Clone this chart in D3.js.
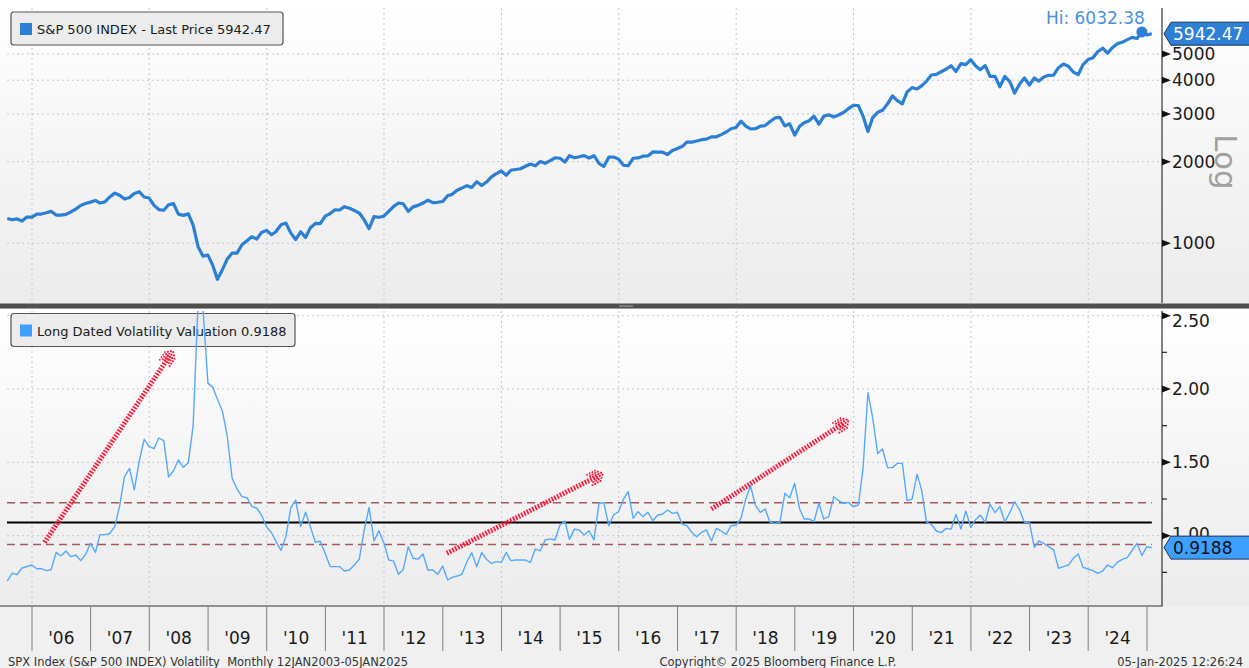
<!DOCTYPE html>
<html>
<head>
<meta charset="utf-8">
<title>S&amp;P 500 vs Long Dated Volatility Valuation</title>
<script src="https://cdn.jsdelivr.net/npm/d3@7"></script>
<style>
  body { margin: 0; background: #f0f0f0; }
  svg { display: block; font-family: "DejaVu Sans", Verdana, sans-serif; }
</style>
</head>
<body>
<script>
// monthly points, end of Jul 2005 .. Jan 2025 (last one is 05 Jan 2025)

// S&P 500 index, month-end close
const spx = [
  1234, 1220, 1229, 1207, 1249, 1248,
  1280, 1281, 1295, 1311, 1270, 1270, 1277, 1304, 1336, 1378, 1401, 1418,
  1438, 1407, 1421, 1482, 1531, 1503, 1455, 1474, 1527, 1549, 1481, 1468,
  1379, 1331, 1323, 1386, 1400, 1280, 1267, 1283, 1166, 969, 896, 903,
  826, 735, 798, 873, 919, 919, 987, 1021, 1057, 1036, 1096, 1115,
  1074, 1104, 1169, 1187, 1089, 1031, 1102, 1049, 1141, 1183, 1181, 1258,
  1286, 1327, 1326, 1364, 1345, 1321, 1292, 1219, 1131, 1253, 1247, 1258,
  1312, 1366, 1408, 1398, 1310, 1362, 1379, 1407, 1441, 1412, 1416, 1426,
  1498, 1515, 1569, 1598, 1631, 1606, 1686, 1633, 1682, 1757, 1806, 1848,
  1783, 1859, 1872, 1884, 1924, 1960, 1931, 2003, 1972, 2018, 2068, 2059,
  1995, 2105, 2068, 2086, 2107, 2063, 2104, 1972, 1920, 2079, 2080, 2044,
  1940, 1932, 2060, 2065, 2097, 2099, 2174, 2171, 2168, 2126, 2199, 2239,
  2279, 2364, 2363, 2384, 2412, 2423, 2470, 2472, 2519, 2575, 2648, 2674,
  2824, 2714, 2641, 2648, 2705, 2718, 2816, 2902, 2914, 2712, 2760, 2507,
  2704, 2784, 2834, 2946, 2752, 2942, 2980, 2926, 2977, 3038, 3141, 3231,
  3226, 2954, 2585, 2912, 3044, 3100, 3271, 3500, 3363, 3270, 3622, 3756,
  3714, 3811, 3973, 4181, 4204, 4298, 4395, 4523, 4308, 4605, 4567, 4766,
  4516, 4374, 4530, 4132, 4132, 3785, 4130, 3955, 3586, 3872, 4080, 3840,
  4077, 3970, 4109, 4169, 4180, 4450, 4589, 4508, 4288, 4194, 4568, 4770,
  4846, 5096, 5254, 5036, 5278, 5460, 5522, 5648, 5762, 5705, 6032.38, 5882,
  5942.47
];

// Long Dated Volatility Valuation, same months
const ldvv = [
  0.69, 0.745, 0.735, 0.78, 0.79, 0.80,
  0.775, 0.775, 0.762, 0.768, 0.886, 0.862, 0.896, 0.857, 0.868, 0.83, 0.87, 0.948,
  0.886, 1.007, 1.007, 1.015, 1.062, 1.20, 1.402, 1.459, 1.312, 1.511, 1.657, 1.607,
  1.593, 1.666, 1.648, 1.40, 1.443, 1.516, 1.466, 1.498, 1.75, 2.6, 2.55, 2.04,
  2.011, 1.93, 1.85, 1.68, 1.39, 1.32, 1.266, 1.259, 1.20, 1.187, 1.14, 1.06,
  1.02, 0.96, 0.90, 0.993, 1.19, 1.243, 1.062, 1.16, 1.06, 0.955, 0.962, 0.88,
  0.789, 0.789, 0.789, 0.759, 0.766, 0.80, 0.839, 1.039, 1.193, 0.964, 1.034, 0.95,
  0.834, 0.827, 0.737, 0.77, 0.925, 0.846, 0.84, 0.875, 0.766, 0.766, 0.737, 0.793,
  0.698, 0.716, 0.725, 0.737, 0.823, 0.884, 0.789, 0.886, 0.839, 0.811, 0.823, 0.818,
  0.886, 0.830, 0.834, 0.834, 0.834, 0.818, 0.909, 0.898, 0.971, 0.978, 0.971, 1.073,
  1.100, 0.975, 1.045, 1.039, 1.005, 1.034, 0.971, 1.221, 1.225, 1.068, 1.141, 1.164,
  1.250, 1.300, 1.118, 1.164, 1.130, 1.16, 1.102, 1.141, 1.148, 1.175, 1.152, 1.16,
  1.077, 1.068, 1.023, 0.993, 1.023, 1.039, 0.964, 1.050, 1.032, 1.009, 1.068, 1.073,
  1.118, 1.243, 1.341, 1.209, 1.159, 1.182, 1.091, 1.085, 1.091, 1.289, 1.259, 1.357,
  1.182, 1.114, 1.114, 1.096, 1.221, 1.114, 1.130, 1.266, 1.239, 1.221, 1.227, 1.198,
  1.209, 1.45, 1.975, 1.80, 1.56, 1.591, 1.464, 1.464, 1.493, 1.493, 1.239, 1.250,
  1.420, 1.312, 1.091, 1.077, 1.032, 1.021, 1.050, 1.045, 1.145, 1.045, 1.168, 1.057,
  1.111, 1.141, 1.091, 1.216, 1.157, 1.198, 1.095, 1.157, 1.232, 1.175, 1.091, 1.091,
  0.920, 0.964, 0.948, 0.925, 0.903, 0.778, 0.789, 0.800, 0.846, 0.875, 0.784, 0.773,
  0.762, 0.743, 0.759, 0.800, 0.782, 0.818, 0.839, 0.850, 0.898, 0.948, 0.864, 0.925,
  0.9188
];

const years = d3.range(2006, 2025);                  // labelled year slots
const gridYears = d3.range(2006, 2025, 2);           // dotted verticals
const spxTicks = [1000, 2000, 3000, 4000, 5000];
const volTicks = [1.00, 1.50, 2.00, 2.50];
const volMinorTicks = [0.75, 1.25, 1.75, 2.25];
const volBands = {lower: 0.94, mean: 1.09, upper: 1.225};
const spxLast = 5942.47, spxHigh = 6032.38, volLast = 0.9188;

// hand-drawn red arrows, [date, value] start -> end
const arrows = [
  [["2006-03-20", 0.955], ["2008-05-27", 2.26]],
  [["2013-01-26", 0.88], ["2015-09-24", 1.425]],
  [["2017-07-31", 1.182], ["2019-12-01", 1.789]]
];

const W = 1249, H = 668;
const axisX = 1162;
const panelA = {y0: 8, y1: 303};
const panelB = {y0: 311, y1: 606};

const dates = spx.map((d, i) => new Date(2005, 7 + i, 0));  // month ends

const x = d3.scaleTime()
  .domain([new Date(2006, 0, 1), new Date(2025, 0, 1)])
  .range([32, 1147]);
const yA = d3.scaleLog().domain([2000, 5000]).range([161.7, 54]);
const yB = d3.scaleLinear().domain([1, 2]).range([535.7, 389]);

const svg = d3.select("body").append("svg")
  .attr("width", W).attr("height", H);

const defs = svg.append("defs");
const grad = defs.append("linearGradient").attr("id", "bg")
  .attr("x1", 0).attr("x2", 0).attr("y1", 0).attr("y2", 1);
grad.append("stop").attr("offset", "0%").attr("stop-color", "#ffffff");
grad.append("stop").attr("offset", "100%").attr("stop-color", "#ececec");

defs.append("clipPath").attr("id", "clipB").append("rect")
  .attr("x", 0).attr("y", panelB.y0).attr("width", axisX).attr("height", panelB.y1 - panelB.y0);

// panel backgrounds
svg.append("rect").attr("x", 0).attr("y", 0).attr("width", W).attr("height", 303)
  .attr("fill", "url(#bg)");
svg.append("rect").attr("x", 0).attr("y", 309).attr("width", W).attr("height", panelB.y1 - 309)
  .attr("fill", "url(#bg)");

// separator bar between the panels
svg.append("rect").attr("x", 0).attr("y", 303.5).attr("width", W).attr("height", 5)
  .attr("fill", "#4f4f4f");
svg.append("rect").attr("x", 619).attr("y", 305.5).attr("width", 14).attr("height", 1.2)
  .attr("fill", "#9a9a9a");

const dotted = g => g.attr("stroke", "#c3c7d4").attr("stroke-width", 1).attr("stroke-dasharray", "2,3");

// grids
[panelA, panelB].forEach(p => {
  svg.append("g").selectAll("line").data(gridYears).join("line")
    .attr("x1", d => x(new Date(d, 0, 1))).attr("x2", d => x(new Date(d, 0, 1)))
    .attr("y1", p.y0).attr("y2", p.y1)
    .call(dotted);
});
svg.append("g").selectAll("line").data(spxTicks).join("line")
  .attr("x1", 7).attr("x2", axisX).attr("y1", d => yA(d)).attr("y2", d => yA(d))
  .call(dotted);
svg.append("g").selectAll("line").data(volTicks).join("line")
  .attr("x1", 7).attr("x2", axisX).attr("y1", d => yB(d)).attr("y2", d => yB(d))
  .call(dotted);

// axis lines
svg.append("line").attr("x1", axisX).attr("x2", axisX).attr("y1", panelA.y0).attr("y2", panelA.y1)
  .attr("stroke", "#333").attr("stroke-width", 1.2);
svg.append("line").attr("x1", axisX).attr("x2", axisX).attr("y1", panelB.y0).attr("y2", panelB.y1)
  .attr("stroke", "#333").attr("stroke-width", 1.2);
svg.append("line").attr("x1", 0).attr("x2", axisX + 0.6).attr("y1", panelB.y1).attr("y2", panelB.y1)
  .attr("stroke", "#333").attr("stroke-width", 1.2);

// right axis ticks + labels
const tri = y => `M${axisX},${y - 3.5}L${axisX + 9},${y}L${axisX},${y + 3.5}Z`;
const axisText = {size: "17px", fill: "#1a1a1a"};

svg.append("g").selectAll("path").data(spxTicks).join("path")
  .attr("d", d => tri(yA(d))).attr("fill", "#111");
svg.append("g").selectAll("text").data(spxTicks).join("text")
  .attr("x", axisX + 10).attr("y", d => yA(d) + 6)
  .attr("font-size", axisText.size).attr("fill", axisText.fill)
  .text(d => d);

svg.append("g").selectAll("path").data(volTicks).join("path")
  .attr("d", d => tri(yB(d))).attr("fill", "#111");
svg.append("g").selectAll("line").data(volMinorTicks).join("line")
  .attr("x1", axisX).attr("x2", axisX + 5).attr("y1", d => yB(d)).attr("y2", d => yB(d))
  .attr("stroke", "#222").attr("stroke-width", 1.2);
// 1.00 sits mostly behind the last-value tag, as in the original
svg.append("g").selectAll("text").data(volTicks).join("text")
  .attr("x", axisX + 10).attr("y", d => yB(d) + (d === 2.5 ? 11 : d === 1 ? 4 : 6))
  .attr("font-size", axisText.size).attr("fill", axisText.fill)
  .text(d => d3.format(".2f")(d));

// "Log" marker
svg.append("text")
  .attr("transform", "translate(1215,162) rotate(90)")
  .attr("text-anchor", "middle")
  .attr("font-size", "31px").attr("fill", "#a0a0a0")
  .text("Log");

// x axis band
svg.append("g").selectAll("line").data(years.concat([2025])).join("line")
  .attr("x1", d => x(new Date(d, 0, 1))).attr("x2", d => x(new Date(d, 0, 1)))
  .attr("y1", panelB.y1).attr("y2", 651)
  .attr("stroke", "#7d7d7d").attr("stroke-width", 1);
svg.append("g").selectAll("text").data(years).join("text")
  .attr("x", d => (x(new Date(d, 0, 1)) + x(new Date(d + 1, 0, 1))) / 2)
  .attr("y", 644)
  .attr("text-anchor", "middle")
  .attr("font-size", "17px").attr("fill", "#1a1a1a")
  .text(d => "'" + String(d).slice(2));

// reference levels in the lower panel
const bandX0 = 7, bandX1 = x(dates[dates.length - 1]);
[["upper", "dash"], ["lower", "dash"], ["mean", "solid"]].forEach(([k, s]) => {
  svg.append("line")
    .attr("x1", bandX0).attr("x2", bandX1)
    .attr("y1", yB(volBands[k])).attr("y2", yB(volBands[k]))
    .attr("stroke", s === "solid" ? "#000" : "#a05a60")
    .attr("stroke-width", s === "solid" ? 2 : 1.6)
    .attr("stroke-dasharray", s === "solid" ? null : "8,5");
});

// legends (drawn before the lines, the lower line passes over its box)
function legend(x0, y0, w, colour, label) {
  const g = svg.append("g");
  g.append("rect").attr("x", x0).attr("y", y0).attr("width", w).attr("height", 33)
    .attr("rx", 3).attr("fill", "#ececec").attr("stroke", "#555").attr("stroke-width", 1.2);
  g.append("rect").attr("x", x0 + 9).attr("y", y0 + 11).attr("width", 12).attr("height", 12)
    .attr("fill", colour);
  g.append("text").attr("x", x0 + 26).attr("y", y0 + 22)
    .attr("font-size", "13px").attr("fill", "#1a1a1a").text(label);
}
legend(11, 12, 272, "#2b7fd4", "S&P 500 INDEX - Last Price " + spxLast);
legend(11, 313.5, 284, "#3d9fff", "Long Dated Volatility Valuation " + volLast);

// S&P line
const lineA = d3.line().x((d, i) => x(dates[i])).y(d => yA(d));
svg.append("path").datum(spx)
  .attr("d", lineA)
  .attr("fill", "none").attr("stroke", "#2b7fd4").attr("stroke-width", 3.2)
  .attr("stroke-linejoin", "round");

const hiIdx = spx.indexOf(spxHigh);
svg.append("circle").attr("cx", x(dates[hiIdx])).attr("cy", yA(spxHigh)).attr("r", 5.5)
  .attr("fill", "#2b7fd4");
svg.append("text").attr("x", x(dates[hiIdx]) + 3).attr("y", 24)
  .attr("text-anchor", "end").attr("font-size", "17px").attr("fill", "#4a90dc")
  .text("Hi: " + spxHigh);

// volatility line
const lineB = d3.line().x((d, i) => x(dates[i])).y(d => yB(d));
svg.append("path").datum(ldvv)
  .attr("clip-path", "url(#clipB)")
  .attr("d", lineB)
  .attr("fill", "none").attr("stroke", "#55aaff").attr("stroke-width", 1.4)
  .attr("stroke-linejoin", "round");

// red arrows: striped shaft + stack of striped chevrons
const parse = d3.timeParse("%Y-%m-%d");
arrows.forEach(([a, b]) => {
  const x0 = x(parse(a[0])), y0 = yB(a[1]);
  const x1 = x(parse(b[0])), y1 = yB(b[1]);
  const ang = Math.atan2(y1 - y0, x1 - x0);
  const ux = Math.cos(ang), uy = Math.sin(ang);
  const g = svg.append("g").attr("stroke", "#ff1a3a").attr("fill", "none");
  g.append("line")
    .attr("x1", x0).attr("y1", y0).attr("x2", x1 - ux * 6).attr("y2", y1 - uy * 6)
    .attr("stroke-width", 5).attr("stroke-dasharray", "1.7,1.4");
  [0, 3, 6, 9].forEach(off => {
    const tx = x1 - ux * off, ty = y1 - uy * off;
    const w = 9;
    const l1 = [tx - w * Math.cos(ang - 0.8), ty - w * Math.sin(ang - 0.8)];
    const l2 = [tx - w * Math.cos(ang + 0.8), ty - w * Math.sin(ang + 0.8)];
    g.append("path")
      .attr("d", `M${l1[0]},${l1[1]}L${tx},${ty}L${l2[0]},${l2[1]}`)
      .attr("stroke-width", 1.8).attr("stroke-dasharray", "2,1.3");
  });
});

// last value tags
function tag(cy, fill, textFill, label) {
  svg.append("path")
    .attr("d", `M${axisX + 2},${cy}L${axisX + 9},${cy - 11.5}L${W + 2},${cy - 11.5}L${W + 2},${cy + 11.5}L${axisX + 9},${cy + 11.5}Z`)
    .attr("fill", fill).attr("stroke", "#1d3557").attr("stroke-width", 1);
  svg.append("text").attr("x", axisX + 11).attr("y", cy + 6.5)
    .attr("font-size", "17px").attr("fill", textFill).text(label);
}
tag(yA(spxLast), "#2e7fd6", "#ffffff", spxLast);
tag(yB(volLast), "#3d9fff", "#111", volLast);

// footer
const foot = svg.append("g").attr("font-size", "11.5px").attr("fill", "#333");
foot.append("text").attr("x", 8).attr("y", 666)
  .attr("xml:space", "preserve")
  .text("SPX Index (S&P 500 INDEX) Volatility  Monthly 12JAN2003-05JAN2025");
foot.append("text").attr("x", 778).attr("y", 666).attr("text-anchor", "middle")
  .text("Copyright\u00a9 2025 Bloomberg Finance L.P.");
foot.append("text").attr("x", 1243).attr("y", 666).attr("text-anchor", "end")
  .text("05-Jan-2025 12:26:24");
</script>
</body>
</html>
